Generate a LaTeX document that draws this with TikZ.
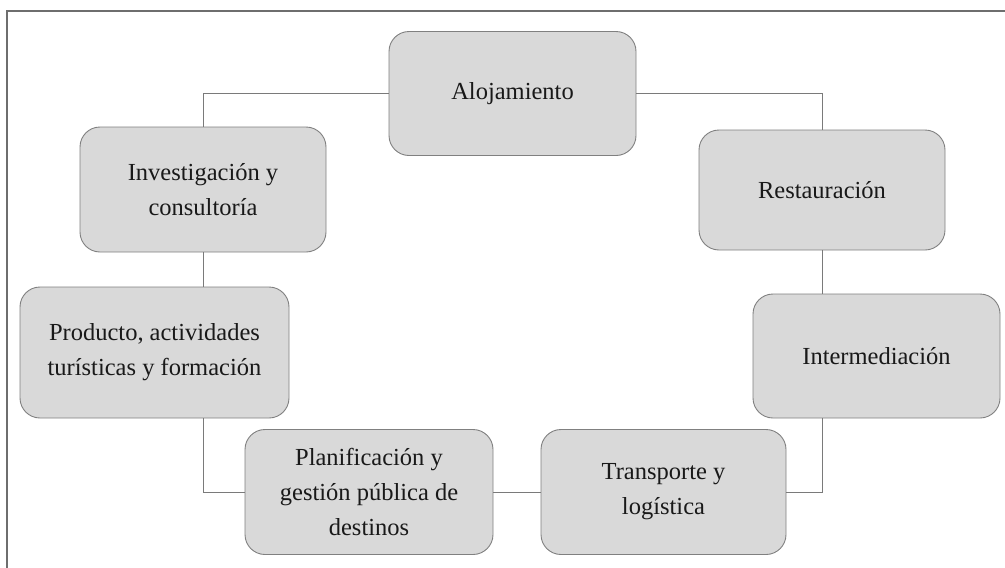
\documentclass[tikz,border=0pt]{standalone}
\usepackage{fontspec}
\setmainfont{Liberation Serif}
\definecolor{boxfill}{HTML}{D9D9D9}
\definecolor{boxdraw}{HTML}{808080}
\definecolor{linecol}{HTML}{7A7A7A}
\definecolor{framecol}{HTML}{6E6E6E}
\begin{document}
\begin{tikzpicture}[x=1pt,y=-1pt,
  card/.style={draw=boxdraw, fill=boxfill, line width=0.9pt, rounded corners=20pt,
    inner sep=0pt, align=center, font=\fontsize{24.5}{35}\selectfont,
    text=black!90},
  link/.style={draw=linecol, line width=0.8pt}]
\useasboundingbox (0,0) rectangle (1005,568);
\draw[framecol, line width=1.5pt] (1005,11) -- (7,11) -- (7,568);

\node[card, minimum width=247pt, minimum height=124pt] (alo) at (512.5,93.5) {Alojamiento};
\node[card, minimum width=246pt, minimum height=120pt] (res) at (822,190) {Restauración};
\node[card, minimum width=247pt, minimum height=124pt] (int) at (876.5,356) {Intermediación};
\node[card, minimum width=245pt, minimum height=125pt] (tra) at (663.5,492) {Transporte y\\logística};
\node[card, minimum width=248pt, minimum height=125pt] (pla) at (369,492) {Planificación y\\gestión pública de\\destinos};
\node[card, minimum width=269pt, minimum height=131pt] (pro) at (154.5,352.5) {Producto, actividades\\turísticas y formación};
\node[card, minimum width=246pt, minimum height=125pt] (inv) at (203,189.5) {Investigación y\\consultoría};

\draw[link] (alo.west) -| (inv.north);
\draw[link] (alo.east) -| (res.north);
\draw[link] (res.south) -- (res.south |- int.north);
\draw[link] (res.south |- int.south) |- (tra.east);
\draw[link] (tra.west) -- (pla.east);
\draw[link] (pla.west) -| (inv.south |- pro.south);
\draw[link] (inv.south) -- (inv.south |- pro.north);
\end{tikzpicture}
\end{document}
